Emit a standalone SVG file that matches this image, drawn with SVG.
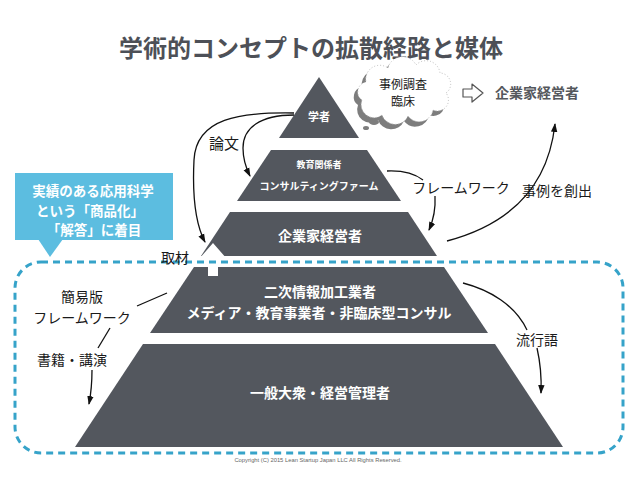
<svg xmlns="http://www.w3.org/2000/svg" width="638" height="479" viewBox="0 0 638 479">
<defs>
<style>
.tier{fill:#53575e}
.tt{font-family:"Noto Sans CJK JP","Noto Sans",sans-serif;font-weight:bold;fill:#fff;text-anchor:middle}
.lbl{font-family:"Noto Sans CJK JP",sans-serif;font-size:14px;fill:#1a1a1a;text-anchor:middle}
.con{fill:none;stroke:#111;stroke-width:1.3}
.arr{marker-end:url(#ah)}
</style>
<marker id="ah" markerUnits="userSpaceOnUse" markerWidth="9" markerHeight="8" refX="8" refY="4" orient="auto">
<path d="M0,0.8 L9,4 L0,7.2 z" fill="#111"/>
</marker>
<path id="cloudShape" d="M362,100 a10,10 0 0 1 4,-18 a14,14 0 0 1 22,-14 a15,15 0 0 1 28,-3 a14,14 0 0 1 24,8 a11,11 0 0 1 6,20 a11,11 0 0 1 -13,17 a14,14 0 0 1 -25,6 a14,14 0 0 1 -26,-1 a13,13 0 0 1 -20,-15 z"/>
</defs>
<rect width="638" height="479" fill="#fff"/>

<text x="311" y="57" font-family="'Noto Sans CJK JP',sans-serif" font-weight="bold" font-size="24" fill="#4d5057" text-anchor="middle">学術的コンセプトの拡散経路と媒体</text>

<g id="tier1">
<polygon class="tier" points="319,77 279,138 359,138"/>
<text class="tt" x="319" y="121" font-size="11">学者</text>
</g>
<g id="tier2">
<polygon class="tier" points="271,150 367,150 401,201 237,201"/>
<text class="tt" x="319" y="168" font-size="9">教育関係者</text>
<text class="tt" x="319" y="190" font-size="10">コンサルティングファーム</text>
</g>
<g id="tier3">
<polygon class="tier" points="230,212 408,212 437,256 201,256"/>
<text class="tt" x="320" y="241" font-size="14">企業家経営者</text>
</g>
<g id="tier4">
<polygon class="tier" points="194,267 444,267 488,333 150,333"/>
<text class="tt" x="320" y="297" font-size="14">二次情報加工業者</text>
<text class="tt" x="319" y="318" font-size="14">メディア・教育事業者・非臨床型コンサル</text>
</g>
<g id="tier5">
<polygon class="tier" points="143,344 495,344 563,447 75,447"/>
<text class="tt" x="320" y="398" font-size="14">一般大衆・経営管理者</text>
</g>

<g id="upArrow">
<polygon points="199,259 213,243 227,259 218,259 218,276 208,276 208,259" fill="#fff"/>
</g>

<g id="cloud">
<use href="#cloudShape" transform="translate(-4,5)" fill="#7d7d7d"/>
<use href="#cloudShape" fill="#fff" stroke="#bdbdbd" stroke-width="1" stroke-dasharray="1 2"/>
<ellipse cx="374" cy="122" rx="5" ry="3" fill="#7d7d7d"/>
<ellipse cx="366" cy="128" rx="3" ry="2" fill="#7d7d7d"/>
<text class="lbl" x="403" y="89" font-size="12" style="font-size:12px">事例調査</text>
<text class="lbl" x="403" y="106" style="font-size:12px">臨床</text>
</g>

<g id="target">
<polygon points="463,89 472,89 472,84 483,93 472,102 472,97 463,97" fill="#fff" stroke="#555" stroke-width="1.2" stroke-linejoin="round"/>
<text x="537" y="98" font-family="'Noto Sans CJK JP',sans-serif" font-weight="bold" font-size="14" fill="#55585d" text-anchor="middle">企業家経営者</text>
</g>

<g id="callout">
<rect x="15" y="173" width="158" height="67" fill="#5cbde0"/>
<polygon points="38,239 63,239 50,257" fill="#5cbde0"/>
<text class="tt" x="93" y="196" font-size="13.5">実績のある応用科学</text>
<text class="tt" x="90" y="216" font-size="13.5">という「商品化」</text>
<text class="tt" x="94" y="235" font-size="13.5">「解答」に着目</text>
</g>

<g id="region">
<rect x="15" y="262" width="608" height="191" rx="26" fill="none" stroke="#36a3c9" stroke-width="3" stroke-dasharray="7 5"/>
</g>

<g id="connectors">
<path class="con arr" d="M294,113 C240,112 196,118 194,160 C192,200 196,225 205,242"/>
<path class="con arr" d="M294,115 C260,115 243,128 243,148 C243,160 246,168 250,176"/>
<path class="con" d="M387,171 Q410,170 423,180"/>
<path class="con arr" d="M435,196 Q436,214 429,230"/>
<path class="con arr" d="M447,241 Q545,215 555,124"/>
<path class="con" d="M167,293 L137,306"/>
<path class="con" d="M110,328 L98,348"/>
<path class="con arr" d="M92,370 Q92,388 89,404"/>
<path class="con" d="M463,283 C490,290 515,305 527,330"/>
<path class="con arr" d="M537,348 Q542,370 541,393"/>
</g>

<g id="labels">
<text class="lbl" x="224" y="149" style="font-size:15px">論文</text>
<text class="lbl" x="461" y="193">フレームワーク</text>
<text class="lbl" x="557" y="196">事例を創出</text>
<text class="lbl" x="175" y="263">取材</text>
<text class="lbl" x="82" y="302">簡易版</text>
<text class="lbl" x="82" y="323">フレームワーク</text>
<text class="lbl" x="72" y="365">書籍・講演</text>
<text class="lbl" x="537" y="345">流行語</text>
</g>

<text x="318" y="462" font-family="'Liberation Sans',sans-serif" font-size="5.8" fill="#666" text-anchor="middle">Copyright (C) 2015 Lean Startup Japan LLC All Rights Reserved.</text>
</svg>
